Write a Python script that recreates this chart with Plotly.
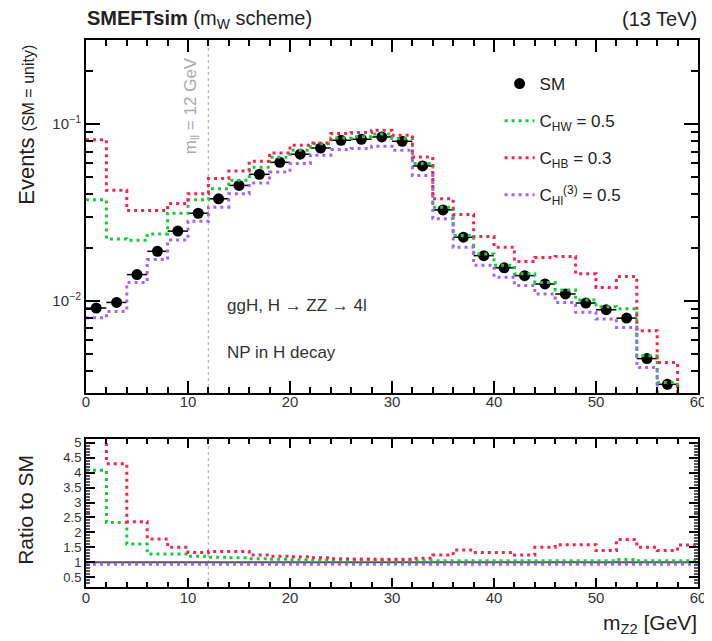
import plotly.graph_objects as go
import numpy as np

# ---------------- data ----------------
bin_edges = list(range(0, 62, 2))          # m_Z2 bins, 2 GeV wide
bin_centers = [e + 1 for e in bin_edges[:-1]]
bin_halfwidth = [1] * 30

sm = [0.00909, 0.00978, 0.01406, 0.01905, 0.0248, 0.0313, 0.0378, 0.0450, 0.0520, 0.0608,
      0.0676, 0.0733, 0.0811, 0.0822, 0.0847, 0.0800, 0.0580, 0.0327, 0.0229, 0.0180,
      0.01535, 0.01387, 0.01244, 0.01092, 0.0097, 0.00889, 0.00797, 0.0047, 0.00336, 0.0022]

c_hw = [0.0373, 0.0224, 0.0220, 0.0239, 0.0313, 0.0373, 0.0431, 0.0482, 0.0570, 0.0650,
        0.0711, 0.0775, 0.0835, 0.0850, 0.0880, 0.0830, 0.0598, 0.0339, 0.0234, 0.0184,
        0.0159, 0.0142, 0.0127, 0.0115, 0.0101, 0.00925, 0.0090, 0.00487, 0.00344, 0.0024]

c_hb = [0.0817, 0.0422, 0.0324, 0.0324, 0.0355, 0.0404, 0.0492, 0.0543, 0.0616, 0.0687,
        0.0760, 0.0783, 0.0885, 0.0897, 0.0925, 0.0866, 0.0652, 0.0378, 0.0308, 0.0231,
        0.0201, 0.0167, 0.0176, 0.0178, 0.0142, 0.0119, 0.0137, 0.00676, 0.00446, 0.0029]

c_hl3 = [0.0080, 0.0087, 0.0127, 0.0171, 0.0221, 0.0282, 0.0339, 0.0404, 0.0464, 0.0536,
         0.0598, 0.0667, 0.0718, 0.0729, 0.0750, 0.0711, 0.0513, 0.0291, 0.0201, 0.0159,
         0.0136, 0.0122, 0.0109, 0.00977, 0.00859, 0.00787, 0.00705, 0.00418, 0.0029, 0.0020]

ratio_sm = [1.0] * 30
ratio_hw = [4.08, 2.33, 1.61, 1.28, 1.28, 1.20, 1.17, 1.15, 1.12, 1.10,
            1.08, 1.07, 1.06, 1.06, 1.06, 1.05, 1.05, 1.05, 1.05, 1.05,
            1.05, 1.05, 1.05, 1.05, 1.05, 1.05, 1.09, 1.05, 1.05, 1.05]
ratio_hb = [9.0, 4.30, 2.36, 1.78, 1.50, 1.33, 1.36, 1.36, 1.24, 1.20,
            1.18, 1.15, 1.12, 1.11, 1.10, 1.10, 1.13, 1.24, 1.41, 1.33,
            1.33, 1.24, 1.50, 1.59, 1.59, 1.39, 1.76, 1.50, 1.39, 1.58]
ratio_hl3 = [0.93] * 30

x_ticks = [0, 10, 20, 30, 40, 50, 60]
y_top_ticks = [0.01, 0.1]
y_top_ticktext = ["10<sup>\u22122</sup>", "10<sup>\u22121</sup>"]
y_top_minor = [0.003, 0.004, 0.005, 0.006, 0.007, 0.008, 0.009,
               0.02, 0.03, 0.04, 0.05, 0.06, 0.07, 0.08, 0.09, 0.2, 0.3]
y_bot_ticks = [0.5, 1, 1.5, 2, 2.5, 3, 3.5, 4, 4.5, 5]
y_bot_ticktext = ["0.5", "1", "1.5", "2", "2.5", "3", "3.5", "4", "4.5", "5"]
mll_cut = 12

GREEN = "#12cc3a"
RED = "#ff1f4f"
PURPLE = "#a064ff"
FONT = "Liberation Sans, Arial, sans-serif"
DOT = "3px,4px"

# page body has an 8px margin; figure fills the rest of the 712x641 window
FIG_W, FIG_H = 704, 633


def steps(vals):
    return list(vals) + [vals[-1]]


fig = go.Figure()

series = [
    (c_hw, ratio_hw, GREEN, "C<sub>HW</sub> = 0.5"),
    (c_hb, ratio_hb, RED, "C<sub>HB</sub> = 0.3"),
    (c_hl3, ratio_hl3, PURPLE, "C<sub>Hl</sub><sup>(3)</sup> = 0.5"),
]

# SM points (top)
fig.add_trace(go.Scatter(
    x=bin_centers, y=sm, mode="markers", name="SM",
    marker=dict(color="black", size=11),
    error_x=dict(type="data", array=bin_halfwidth, color="black", thickness=1.5, width=0),
    xaxis="x", yaxis="y", legendgroup="sm"))

for vals, rat, col, name in series:
    fig.add_trace(go.Scatter(
        x=bin_edges, y=steps(vals), mode="lines", line_shape="hv", name=name,
        line=dict(color=col, width=3, dash=DOT), xaxis="x", yaxis="y",
        legendgroup=name))

# ratio panel
fig.add_trace(go.Scatter(
    x=bin_edges, y=steps(ratio_sm), mode="lines", line_shape="hv",
    line=dict(color="#555555", width=2), xaxis="x2", yaxis="y2", showlegend=False))
for vals, rat, col, name in series:
    fig.add_trace(go.Scatter(
        x=bin_edges, y=steps(rat), mode="lines", line_shape="hv",
        line=dict(color=col, width=3, dash=DOT), xaxis="x2", yaxis="y2",
        showlegend=False))

# m_ll cut lines
for xr, yr in (("x", "y domain"), ("x2", "y2 domain")):
    fig.add_shape(type="line", xref=xr, yref=yr, x0=mll_cut, x1=mll_cut, y0=0, y1=1,
                  line=dict(color="#bbbbbb", width=1.3, dash="3px,3px"), layer="below")

axis_common = dict(showline=True, linecolor="black", linewidth=2, mirror="ticks",
                   ticks="inside", tickcolor="black", showgrid=False, zeroline=False,
                   tickfont=dict(family=FONT, size=15, color="#333333"))

# plot area in window pixels: x 86..706, y 40..587 (top panel 40..393, ratio 439..587)
ML, MR, MT, MB = 86 - 8, 8 + FIG_W - 706, 40 - 8, 8 + FIG_H - 587
PH = 587 - 40
top_dom = [(587 - 393) / PH, 1.0]
bot_dom = [0.0, (587 - 439) / PH]


def py(win_y):
    return (587 - win_y) / PH


def px(win_x):
    return (win_x - 86) / 620


fig.update_layout(
    width=FIG_W, height=FIG_H,
    margin=dict(l=ML, r=MR, t=MT, b=MB),
    paper_bgcolor="white", plot_bgcolor="white",
    font=dict(family=FONT, color="#222222"),
    xaxis=dict(domain=[0, 1], anchor="y", range=[0, 60], tickvals=x_ticks,
               ticklen=12, tickwidth=1.5, ticklabeloverflow="allow", ticklabelstandoff=-6,
               minor=dict(ticks="inside", dtick=2, tick0=0, ticklen=6, tickcolor="black"),
               **axis_common),
    yaxis=dict(domain=top_dom, anchor="x", type="log",
               range=[np.log10(0.003), np.log10(0.3)],
               tickvals=y_top_ticks, ticktext=y_top_ticktext, ticklen=14, tickwidth=1.5,
               minor=dict(ticks="inside", tickvals=y_top_minor, ticklen=7, tickcolor="black"),
               **axis_common),
    xaxis2=dict(domain=[0, 1], anchor="y2", range=[0, 60], tickvals=x_ticks,
                ticklen=9, tickwidth=1.5, ticklabeloverflow="allow", ticklabelstandoff=-4,
                minor=dict(ticks="inside", dtick=2, tick0=0, ticklen=5, tickcolor="black"),
                **axis_common),
    yaxis2=dict(domain=bot_dom, anchor="x2", range=[0.17, 5.13],
                tickvals=y_bot_ticks, ticktext=y_bot_ticktext, ticklen=9, tickwidth=1.5,
                minor=dict(ticks="inside", dtick=0.1, tick0=0, ticklen=4, tickcolor="#555555"),
                **{**axis_common, "tickfont": dict(family=FONT, size=13, color="#333333")}),
    legend=dict(x=px(505), y=py(66), xanchor="left", yanchor="top",
                bgcolor="rgba(0,0,0,0)", font=dict(family=FONT, size=17, color="#222222"),
                traceorder="grouped", tracegroupgap=12),
    showlegend=True,
)

base = dict(showarrow=False)
ann = [
    dict(text="<b>SMEFTsim</b> (m<sub>W</sub> scheme)", xref="paper", yref="paper",
         x=px(85), y=py(19), xanchor="left", yanchor="middle",
         font=dict(size=20, color="#222222", family=FONT)),
    dict(text="(13 TeV)", xref="paper", yref="paper", x=px(707), y=py(19),
         xanchor="right", yanchor="middle", font=dict(size=20, color="#222222", family=FONT)),
    dict(text="Events <span style='font-size:16px'>(SM = unity)</span>", xref="paper", yref="paper",
         x=px(26), y=py(125), textangle=-90, xanchor="center", yanchor="middle",
         font=dict(size=22, color="#222222", family=FONT)),
    dict(text="Ratio to SM", xref="paper", yref="paper", x=px(24), y=py(510),
         textangle=-90, xanchor="center", yanchor="middle",
         font=dict(size=21, color="#222222", family=FONT)),
    dict(text="m<sub>Z2</sub> [GeV]", xref="paper", yref="paper", x=px(707), y=py(624),
         xanchor="right", yanchor="middle", font=dict(size=21, color="#222222", family=FONT)),
    dict(text="ggH, H \u2192 ZZ \u2192 4l", xref="x", yref="y", x=13.6, y=-2.028,
         xanchor="left", yanchor="middle", font=dict(size=17, color="#333333", family=FONT)),
    dict(text="NP in H decay", xref="x", yref="y", x=13.6, y=-2.295,
         xanchor="left", yanchor="middle", font=dict(size=17, color="#333333", family=FONT)),
    dict(text="m<sub>ll</sub> = 12 GeV", xref="x", yref="y", x=10.4, y=-0.898,
         textangle=-90, xanchor="center", yanchor="middle",
         font=dict(size=17, color="#aaaaaa", family=FONT)),
]
fig.update_layout(annotations=[dict(base, **a) for a in ann])

fig.write_html("out.html")
